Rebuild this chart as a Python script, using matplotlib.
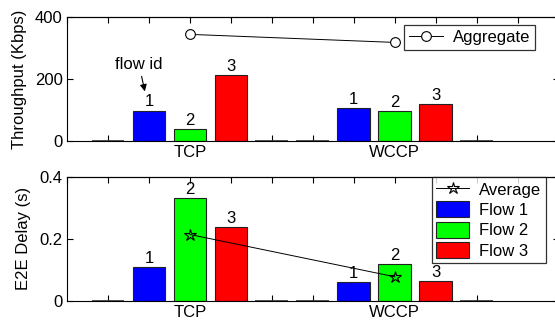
import matplotlib
matplotlib.use("Agg")
import matplotlib.pyplot as plt
from matplotlib.patches import Patch
from matplotlib.lines import Line2D

plt.rcParams['font.family'] = ['Liberation Sans', 'DejaVu Sans']

groups = ["TCP", "WCCP"]
group_pos = [3, 8]
flow_pos = [[2, 3, 4], [7, 8, 9]]
empty_pos = [1, 5, 6, 10]
flow_labels = ["Flow 1", "Flow 2", "Flow 3"]
flow_colors = ["#0000ff", "#00ff00", "#ff0000"]

throughput = [[98, 38, 212], [105, 97, 118]]       # Kbps per flow
aggregate = [344, 318]
delay = [[0.110, 0.331, 0.239], [0.060, 0.118, 0.064]]  # s per flow
average = [0.214, 0.078]

fig = plt.figure(figsize=(5.55, 3.27), dpi=100)
ax1 = fig.add_axes([0.1207, 0.5688, 0.886, 0.3792])
ax2 = fig.add_axes([0.1207, 0.0795, 0.886, 0.3801])

FS = 12

def style(ax, ylim, yticks, yticklabels):
    ax.set_xlim(0, 12)
    ax.set_ylim(*ylim)
    ax.set_yticks(yticks)
    ax.set_yticklabels(yticklabels, fontsize=FS)
    ax.tick_params(axis='y', direction='in', length=4, right=True, width=0.8, pad=3)
    ax.set_xticks(group_pos)
    ax.set_xticklabels(groups, fontsize=FS)
    ax.tick_params(axis='x', which='major', length=0, pad=3)
    ax.set_xticks(empty_pos, minor=True)
    ax.tick_params(axis='x', which='minor', direction='in', length=4, width=0.8)
    sec = ax.secondary_xaxis('top')
    sec.set_xticks(range(13))
    sec.tick_params(direction='in', length=4, width=0.8, labeltop=False)
    for s in ax.spines.values():
        s.set_linewidth(0.8)
    # zero-height bars (group padding)
    ax.bar(empty_pos, [0] * len(empty_pos), width=0.8, color='k', edgecolor='#333333', linewidth=1.2, zorder=2)

# --- throughput panel
for g in range(2):
    for i in range(3):
        ax1.bar(flow_pos[g][i], throughput[g][i], width=0.8, color=flow_colors[i],
                edgecolor='#222222', linewidth=0.8, zorder=2)
        ax1.text(flow_pos[g][i], throughput[g][i] + 4, str(i + 1), ha='center', va='bottom', fontsize=FS)
ax1.plot(group_pos, aggregate, color='k', linewidth=0.7, marker='o', markersize=7,
         markerfacecolor='white', markeredgecolor='k', markeredgewidth=0.8, zorder=3)
style(ax1, (0, 400), [0, 200, 400], ["0", "200", "400"])
ax1.set_ylabel("Throughput (Kbps)", fontsize=FS, labelpad=6)
ax1.annotate("flow id", xy=(1.9, 160), xytext=(1.76, 246), ha='center', va='center', fontsize=FS,
             arrowprops=dict(arrowstyle='-|>', color='k', lw=0.8, shrinkA=1, shrinkB=0, mutation_scale=10))
leg1 = ax1.legend(handles=[Line2D([], [], color='k', lw=0.7, marker='o', markersize=7,
                                  markerfacecolor='white', markeredgecolor='k', markeredgewidth=0.8)],
                  labels=["Aggregate"], loc='upper left', bbox_to_anchor=(0.686, 0.935),
                  fontsize=FS, frameon=True, fancybox=False, handlelength=2.0,
                  borderpad=0.3, handletextpad=0.6, borderaxespad=0)
leg1.get_frame().set_edgecolor('k')
leg1.get_frame().set_linewidth(0.9)

# --- delay panel
for g in range(2):
    for i in range(3):
        ax2.bar(flow_pos[g][i], delay[g][i], width=0.8, color=flow_colors[i],
                edgecolor='#222222', linewidth=0.8, zorder=2)
        ax2.text(flow_pos[g][i], delay[g][i] + 0.003, str(i + 1), ha='center', va='bottom', fontsize=FS)
ax2.plot(group_pos, average, color='k', linewidth=0.7, marker='*', markersize=9,
         markerfacecolor='none', markeredgecolor='k', markeredgewidth=0.8, zorder=3)
style(ax2, (0, 0.4), [0, 0.2, 0.4], ["0", "0.2", "0.4"])
ax2.set_ylabel("E2E Delay (s)", fontsize=FS, labelpad=6)
handles = [Line2D([], [], color='k', lw=0.7, marker='*', markersize=9,
                  markerfacecolor='none', markeredgecolor='k', markeredgewidth=0.8)]
handles += [Patch(facecolor=c, edgecolor='#222222', linewidth=0.8) for c in flow_colors]
leg2 = ax2.legend(handles=handles, labels=["Average"] + flow_labels, loc='upper left',
                  bbox_to_anchor=(0.742, 1.0), fontsize=FS, frameon=True, fancybox=False,
                  handlelength=2.0, handleheight=1.1, borderpad=0.25, labelspacing=0.22,
                  handletextpad=0.6, borderaxespad=0)
leg2.get_frame().set_edgecolor('k')
leg2.get_frame().set_linewidth(0.9)

fig.savefig("out.png", dpi=100)
